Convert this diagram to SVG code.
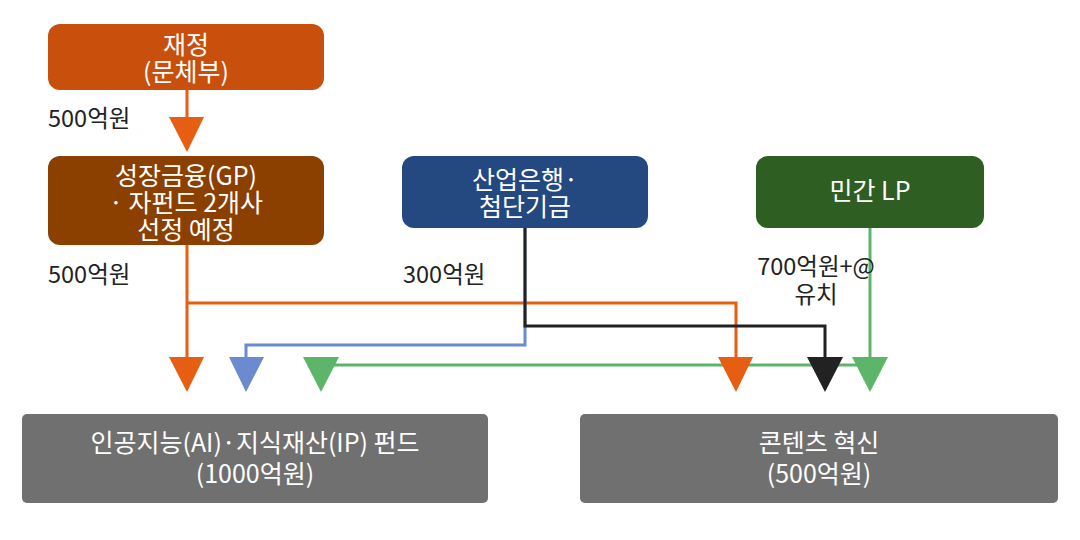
<svg xmlns="http://www.w3.org/2000/svg" width="1080" height="540" viewBox="0 0 1080 540">
<style>
.nt{font-family:"Noto Sans CJK KR","Noto Sans",sans-serif;font-size:25px;fill:#fff;text-anchor:middle}
.lb{font-family:"Noto Sans CJK KR","Noto Sans",sans-serif;font-size:23.5px;fill:#222}
.ln{fill:none;stroke-width:3}
</style>
<rect width="1080" height="540" fill="#fff"/>
<g id="connectors">
<path class="ln" stroke="#E55E12" d="M187,90 V120"/>
<polygon fill="#E55E12" points="169,117 204,117 187,152"/>
<path class="ln" stroke="#E55E12" d="M187,245 V360"/>
<path class="ln" stroke="#E55E12" d="M187,303 H736 V360"/>
<path class="ln" stroke="#6B8ACF" d="M525,228 V345 H246 V360"/>
<path class="ln" stroke="#222" d="M525,228 V326 H825 V360"/>
<path class="ln" stroke="#5DB56A" d="M870,228 V360"/>
<path class="ln" stroke="#5DB56A" d="M870,365 H321"/>
<polygon fill="#E55E12" points="169,357 204,357 187,392"/>
<polygon fill="#6B8ACF" points="229,357 264,357 246,392"/>
<polygon fill="#5DB56A" points="303,357 339,357 321,392"/>
<polygon fill="#E55E12" points="718,357 753,357 736,392"/>
<polygon fill="#222" points="807,357 843,357 825,392"/>
<polygon fill="#5DB56A" points="852,357 888,357 870,392"/>
</g>
<g id="labels">
<text class="lb" x="48" y="127">500억원</text>
<text class="lb" x="48" y="283">500억원</text>
<text class="lb" x="403" y="283">300억원</text>
<text class="lb" x="816" y="275" text-anchor="middle">700억원+@</text>
<text class="lb" x="816" y="303" text-anchor="middle">유치</text>
</g>
<g id="node-jaejeong">
<rect x="48" y="24" width="276" height="66" rx="12" fill="#C9500C"/>
<text class="nt" x="186" y="54">재정</text>
<text class="nt" x="186" y="81">(문체부)</text>
</g>
<g id="node-gp">
<rect x="48" y="156" width="276" height="89" rx="12" fill="#8B4000"/>
<text class="nt" x="186" y="185">성장금융(GP)</text>
<text class="nt" x="186" y="212">· 자펀드 2개사</text>
<text class="nt" x="186" y="239">선정 예정</text>
</g>
<g id="node-kdb">
<rect x="402" y="156" width="246" height="72" rx="12" fill="#244880"/>
<text class="nt" x="525" y="189">산업은행·</text>
<text class="nt" x="525" y="216">첨단기금</text>
</g>
<g id="node-lp">
<rect x="756" y="156" width="228" height="72" rx="12" fill="#2E5E22"/>
<text class="nt" x="870" y="200">민간 LP</text>
</g>
<g id="node-ai">
<rect x="22" y="414" width="466" height="89" rx="5" fill="#717070"/>
<text class="nt" x="255" y="452">인공지능(AI)·지식재산(IP) 펀드</text>
<text class="nt" x="255" y="483">(1000억원)</text>
</g>
<g id="node-content">
<rect x="580" y="414" width="478" height="89" rx="5" fill="#717070"/>
<text class="nt" x="819" y="452">콘텐츠 혁신</text>
<text class="nt" x="819" y="483">(500억원)</text>
</g>
</svg>
